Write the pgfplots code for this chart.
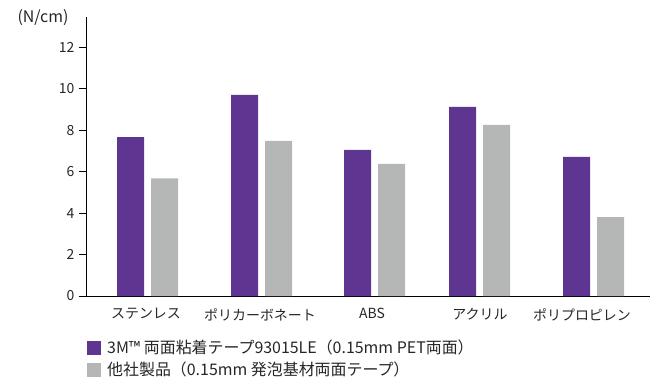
\documentclass[border=0pt]{standalone}
\usepackage{pgfplots}
\pgfplotsset{compat=1.18}
\usepackage{fontspec}
\setmainfont{Noto Sans CJK JP}
\definecolor{mpurple}{RGB}{94,53,144}
\definecolor{mgray}{RGB}{181,182,182}
\begin{document}
\begin{tikzpicture}
\path[use as bounding box] (0,0) rectangle (651bp,381bp);
\begin{axis}[
  at={(86bp,85bp)}, anchor=south west,
  scale only axis, width=564bp, height=279bp,
  xmin=86, xmax=650, ymin=0, ymax=13.46,
  axis lines=left, axis line style={-, line width=1bp, black},
  ytick={0,2,...,12}, tick align=outside, major tick length=7bp,
  ytick style={line width=0.9bp, black},
  xtick={146,260,372,480,582},
  xticklabels={ステンレス,ポリカーボネート,ABS,アクリル,ポリプロピレン},
  xtick style={draw=none},
  /pgf/number format/assume math mode=true,
  tick label style={font=\fontsize{14}{16}\selectfont, text=black!85},
  yticklabel style={xshift=-1bp},
  xticklabel style={yshift=-2bp},
  legend style={draw=none, fill=none, at={(rel axis cs:0,0)}, anchor=north west,
    xshift=1bp, yshift=-42bp, font=\fontsize{16}{18}\selectfont, row sep=3bp,
    text=black!85, inner sep=0pt,
    /tikz/every odd column/.append style={column sep=4bp}},
  legend cell align=left,
  clip=false,
]
\addplot[ybar, bar width=27, bar shift=0pt, fill=mpurple, draw=none,
  legend image code/.code={\fill[mpurple] (0bp,-7bp) rectangle (14bp,7bp);}]
  coordinates {(130.5,7.67) (244.5,9.70) (357.5,7.05) (462.5,9.12) (576.5,6.71)};
\addlegendentry{3M™ 両面粘着テープ93015LE（0.15mm PET両面）}
\addplot[ybar, bar width=27, bar shift=0pt, fill=mgray, draw=none,
  legend image code/.code={\fill[mgray] (0bp,-7bp) rectangle (14bp,7bp);}]
  coordinates {(164.5,5.68) (278.5,7.48) (391.5,6.37) (496.5,8.25) (610.5,3.81)};
\addlegendentry{他社製品（0.15mm 発泡基材両面テープ）}
\node[font=\fontsize{16}{18}\selectfont, text=black!85] at ([xshift=-43bp,yshift=-1bp]rel axis cs:0,1) {(N/cm)};
\end{axis}
\end{tikzpicture}
\end{document}
